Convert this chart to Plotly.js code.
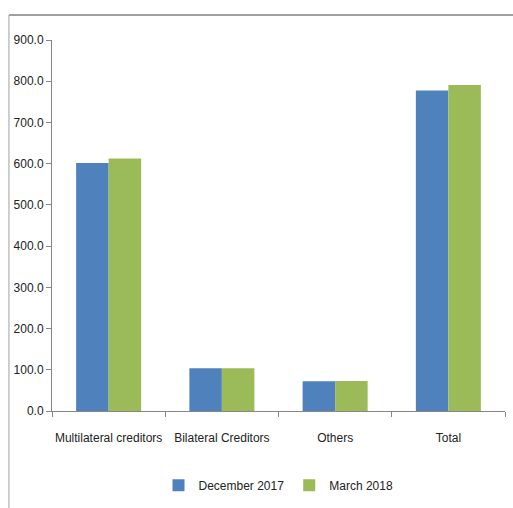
<!DOCTYPE html>
<html>
<head>
<meta charset="utf-8">
<script src="https://cdn.plot.ly/plotly-3.0.1.min.js"></script>
<style>
html,body{margin:0;padding:0;background:#fff;}
#chart{width:513px;height:508px;}
</style>
</head>
<body>
<div id="chart"></div>
<script>
const categories = ["Multilateral creditors", "Bilateral Creditors", "Others", "Total"];
const seriesNames = ["December 2017", "March 2018"];
const dec2017 = [601.5, 103.6, 72.3, 777.6];
const mar2018 = [612.8, 103.8, 73.0, 790.6];
const yTicks = [0, 100, 200, 300, 400, 500, 600, 700, 800, 900];

const font = {family: "Liberation Sans Narrow, Arial Narrow, Liberation Sans, sans-serif", size: 12, color: "#222"};

const traces = [
  {type: "bar", name: seriesNames[0], x: categories, y: dec2017, marker: {color: "#4F81BD"}},
  {type: "bar", name: seriesNames[1], x: categories, y: mar2018, marker: {color: "#9BBB59"}}
];

const layout = {
  width: 513, height: 508,
  margin: {l: 52, r: 8, t: 40, b: 97},
  paper_bgcolor: "#fff", plot_bgcolor: "#fff",
  font: font,
  barmode: "group",
  bargap: 0.426,
  bargroupgap: 0,
  showlegend: true,
  legend: {orientation: "h", x: 0.5, xanchor: "center", y: -0.2, yanchor: "middle", font: font, itemwidth: 30, traceorder: "normal"},
  xaxis: {
    type: "category",
    tickangle: 0,
    showline: true, linecolor: "#868686", linewidth: 1,
    ticks: "outside", tickson: "boundaries", ticklen: 5, tickcolor: "#868686",
    ticklabelstandoff: 16,
    showgrid: false, zeroline: false,
    tickfont: font,
    automargin: false
  },
  yaxis: {
    range: [0, 900],
    tickvals: yTicks,
    ticktext: yTicks.map(v => v.toFixed(1)),
    showline: true, linecolor: "#868686", linewidth: 1,
    ticks: "outside", ticklen: 5, tickcolor: "#868686",
    showgrid: false, zeroline: false,
    tickfont: font,
    automargin: false
  },
  shapes: [
    {type: "line", xref: "paper", yref: "paper", x0: -0.095, x1: 1.02, y0: 1.0674, y1: 1.0674, line: {color: "#a0a0a0", width: 2}},
    {type: "line", xref: "paper", yref: "paper", x0: -0.095, x1: -0.095, y0: 1.0674, y1: -0.27, line: {color: "#a0a0a0", width: 1}}
  ]
};

Plotly.newPlot("chart", traces, layout, {displayModeBar: false, staticPlot: true});
</script>
</body>
</html>
